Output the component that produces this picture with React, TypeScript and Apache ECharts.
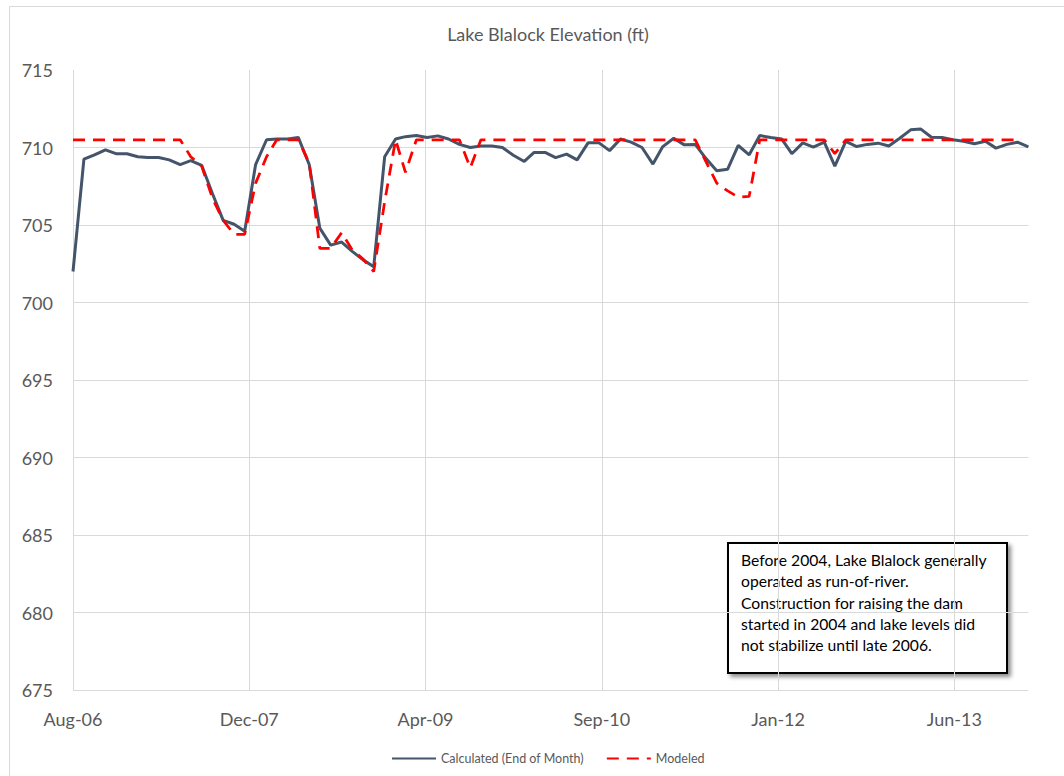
import React, { useEffect, useRef } from "react";
import * as echarts from "echarts";

// Monthly observations, Aug-2006 .. Jan-2014
const startYear = 2006;
const startMonth = 7; // August (0-based)
const calculated = [
  702.0, 709.25, 709.53, 709.85, 709.6, 709.6, 709.4, 709.35, 709.35, 709.2,
  708.9, 709.15, 708.85, 707.0, 705.3, 705.05, 704.6, 708.9, 710.5, 710.55,
  710.55, 710.65, 708.9, 704.8, 703.7, 703.9, 703.3, 702.75, 702.3, 709.4,
  710.55, 710.7, 710.77, 710.65, 710.75, 710.55, 710.2, 710.0, 710.1, 710.1,
  710.0, 709.5, 709.1, 709.68, 709.68, 709.35, 709.57, 709.2, 710.3, 710.3,
  709.8, 710.55, 710.35, 710.0, 708.93, 710.06, 710.6, 710.17, 710.2, 709.3,
  708.5, 708.6, 710.13, 709.53, 710.77, 710.65, 710.55, 709.6, 710.3, 710.03,
  710.35, 708.8, 710.4, 710.06, 710.2, 710.28, 710.1, 710.6, 711.14, 711.2,
  710.66, 710.65, 710.5, 710.4, 710.24, 710.4, 709.96, 710.2, 710.34, 710.04,
];
const modeled = [
  710.5, 710.5, 710.5, 710.5, 710.5, 710.5, 710.5, 710.5, 710.5, 710.5,
  710.5, 709.4, 708.8, 706.7, 705.3, 704.4, 704.4, 707.7, 709.4, 710.5,
  710.5, 710.5, 709.0, 703.5, 703.5, 704.5, 703.4, 702.8, 702.0, 706.5,
  710.5, 708.4, 710.5, 710.5, 710.5, 710.5, 710.5, 708.7, 710.5, 710.5,
  710.5, 710.5, 710.5, 710.5, 710.5, 710.5, 710.5, 710.5, 710.5, 710.5,
  710.5, 710.5, 710.5, 710.5, 710.5, 710.5, 710.5, 710.5, 710.5, 709.1,
  707.7, 707.2, 706.8, 706.85, 710.5, 710.5, 710.5, 710.5, 710.5, 710.5,
  710.5, 709.6, 710.5, 710.5, 710.5, 710.5, 710.5, 710.5, 710.5, 710.5,
  710.5, 710.5, 710.5, 710.5, 710.5, 710.5, 710.5, 710.5, 710.5,
];
const yTicks = { min: 675, max: 715, step: 5 };
const xTickDays = 500;
const monthNames = ["Jan", "Feb", "Mar", "Apr", "May", "Jun", "Jul", "Aug", "Sep", "Oct", "Nov", "Dec"];
const titleText = "Lake Blalock Elevation (ft)";
const noteLines = [
  "Before 2004, Lake Blalock generally",
  "operated as run-of-river.",
  "Construction for raising the dam",
  "started in 2004 and lake levels did",
  "not stabilize until late 2006.",
];

const DAY = 86400000;
const base = Date.UTC(startYear, startMonth, 1);
const dayOf = (i: number) => Math.round((Date.UTC(startYear, startMonth + i, 1) - base) / DAY);
const lastDay = dayOf(calculated.length - 1);

const FONT = 'Lato, "Liberation Sans", sans-serif';

export default function App() {
  const ref = useRef<HTMLDivElement>(null);
  useEffect(() => {
    if (!ref.current) return;
    const chart = echarts.init(ref.current, null, { renderer: "svg" });
    const option: any = {
      animation: false,
      backgroundColor: "#ffffff",
      textStyle: { fontFamily: FONT },
      title: {
        text: titleText,
        left: 543,
        textAlign: "center",
        top: 20,
        textStyle: { fontSize: 18, fontWeight: "normal", color: "#595959", fontFamily: FONT },
      },
      grid: { left: 73, right: 35.6, top: 70, bottom: 86, containLabel: false },
      legend: {
        left: 386,
        top: 747,
        itemWidth: 44,
        itemHeight: 12,
        itemGap: 22,
        itemStyle: { opacity: 0 },
        textStyle: { fontSize: 12.5, color: "#595959", fontFamily: FONT },
        data: ["Calculated (End of Month)", "Modeled"],
      },
      xAxis: {
        type: "value",
        min: 0,
        max: lastDay,
        interval: xTickDays,
        axisLine: { show: false },
        axisTick: { show: false },
        splitLine: { show: true, showMaxLine: false, lineStyle: { color: "#d9d9d9", width: 1 } },
        axisLabel: {
          fontSize: 18,
          color: "#595959",
          fontFamily: FONT,
          margin: 20,
          showMaxLabel: false,
          formatter: (v: number) => {
            if (v % xTickDays !== 0) return "";
            const d = new Date(base + v * DAY);
            return monthNames[d.getUTCMonth()] + "-" + String(d.getUTCFullYear() % 100).padStart(2, "0");
          },
        },
      },
      yAxis: {
        type: "value",
        min: yTicks.min,
        max: yTicks.max,
        interval: yTicks.step,
        axisLine: { show: false },
        axisTick: { show: false },
        splitLine: { show: true, showMaxLine: false, lineStyle: { color: "#d9d9d9", width: 1 } },
        axisLabel: { fontSize: 18, color: "#595959", fontFamily: FONT, margin: 20 },
      },
      series: [
        {
          name: "Calculated (End of Month)",
          type: "line",
          symbol: "none",
          data: calculated.map((v, i) => [dayOf(i), v]),
          lineStyle: { color: "#44546A", width: 3 },
          itemStyle: { color: "#44546A" },
          z: 2,
        },
        {
          name: "Modeled",
          type: "line",
          symbol: "none",
          data: modeled.map((v, i) => [dayOf(i), v]),
          lineStyle: { color: "#FF0000", width: 2.75, type: [12, 8] },
          itemStyle: { color: "#FF0000" },
          z: 3,
        },
      ],
      graphic: [
        {
          type: "rect",
          shape: { x: 9.5, y: 6.5, width: 1100, height: 800 },
          style: { fill: "none", stroke: "#d9d9d9", lineWidth: 1 },
          silent: true,
          z: -1,
        },
        {
          type: "group",
          left: 727,
          top: 542,
          children: [
            {
              type: "rect",
              shape: { x: 0, y: 0, width: 279, height: 130 },
              style: {
                fill: "#ffffff",
                stroke: "#000000",
                lineWidth: 2,
                shadowBlur: 4,
                shadowOffsetX: 3,
                shadowOffsetY: 3,
                shadowColor: "rgba(0,0,0,0.45)",
              },
            },
            {
              type: "text",
              x: 13,
              y: 6,
              style: {
                text: noteLines.join("\n"),
                font: `15.7px ${FONT}`,
                fill: "#000000",
                lineHeight: 21.4,
              },
            },
          ],
        },
      ],
    };
    chart.setOption(option);
    return () => chart.dispose();
  }, []);
  return (
    <div
      ref={ref}
      style={{ position: "absolute", left: 0, top: 0, width: 1064, height: 776 }}
    />
  );
}
